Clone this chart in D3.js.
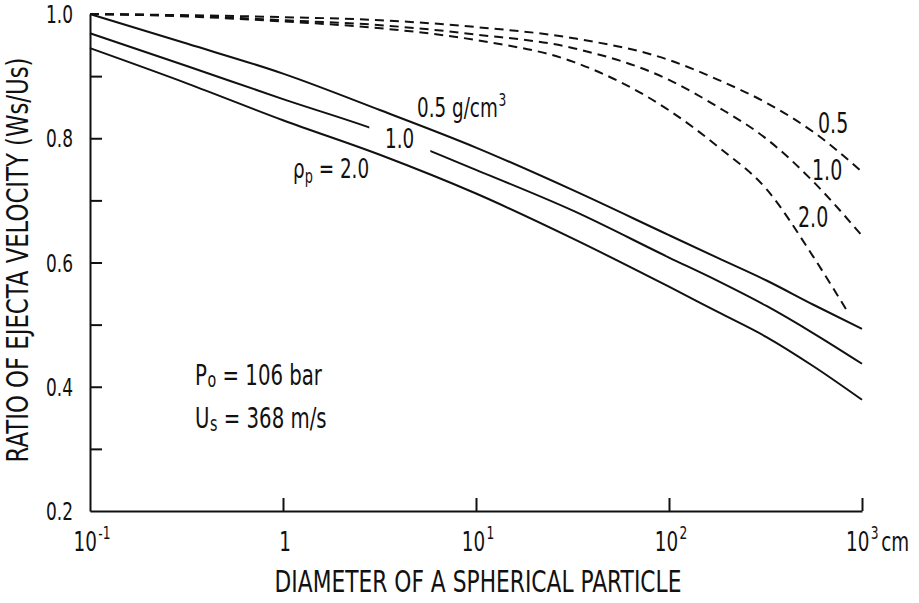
<!DOCTYPE html>
<html><head><meta charset="utf-8">
<script src="https://cdn.jsdelivr.net/npm/d3@7"></script>
<style>
body{margin:0;background:#fff;}
svg{display:block;}
text{font-family:"DejaVu Sans",sans-serif;fill:#111;}
</style></head><body>
<svg id="chart" width="919" height="603"></svg>
<script>
// ---- data ----
const diameters = [0.1, 0.32, 1, 3.2, 10, 32, 100, 180, 320, 560, 1000];
const solid05 = [1.0, 0.952, 0.904, 0.845, 0.785, 0.716, 0.644, 0.607, 0.571, 0.532, 0.493];
const solid10 = [0.969, 0.916, 0.863, 0.811, 0.749, 0.683, 0.608, 0.570, 0.530, 0.486, 0.437];
const solid20 = [0.945, 0.888, 0.829, 0.773, 0.711, 0.638, 0.561, 0.520, 0.480, 0.433, 0.379];
const dashDiam = [0.1, 0.32, 1, 3.2, 10, 32, 100, 180, 320, 560, 1000];
const dashDiam20 = [0.1, 0.32, 1, 3.2, 10, 32, 100, 180, 320, 560, 845];
const dashed05 = [1.0, 0.998, 0.995, 0.990, 0.979, 0.961, 0.926, 0.894, 0.857, 0.810, 0.746];
const dashed10 = [1.0, 0.997, 0.990, 0.982, 0.967, 0.945, 0.894, 0.850, 0.799, 0.730, 0.643];
const dashed20 = [1.0, 0.996, 0.988, 0.977, 0.958, 0.923, 0.845, 0.786, 0.718, 0.609, 0.520];
const yMinorTicks = [0.3, 0.4, 0.5, 0.6, 0.7, 0.8, 0.9];
const yTickLabels = [0.2, 0.4, 0.6, 0.8, 1.0];
const xTickValues = [0.1, 1, 10, 100, 1000];
const xTickBase = ["10", "1", "10", "10", "10"];
const xTickExp = ["-1", "", "1", "2", "3"];
const labelGap = [2.8, 5.8]; // diameters where the 1.0 curve is broken for its label

const SX = 0.68; // horizontal squeeze to mimic the narrow lettering
const svg = d3.select("#chart");
const x = d3.scaleLog().domain([0.1, 1000]).range([90, 862]);
const y = d3.scaleLinear().domain([0.2, 1.0]).range([511, 14]);

function txt(px, py, size, anchor, rot) {
  return svg.append("text")
    .attr("transform", `translate(${px},${py})` + (rot ? ` rotate(${rot})` : "") + ` scale(${SX},1)`)
    .attr("font-size", size).attr("text-anchor", anchor || "start");
}
// text squeezed to an exact length
function fitted(px, py, size, rot, len, str) {
  const t = svg.append("text").attr("font-size", size).attr("text-anchor", "middle").text(str);
  const natural = t.node().getComputedTextLength() || len;
  t.attr("transform", `translate(${px},${py})` + (rot ? ` rotate(${rot})` : "") + ` scale(${len / natural},1)`);
  return t;
}

// axes
svg.append("g").attr("transform", "translate(0,511)")
  .call(d3.axisBottom(x).tickValues(xTickValues.slice(1)).tickSize(-13).tickSizeOuter(0).tickFormat(""));
svg.append("g").attr("transform", "translate(90,0)")
  .call(d3.axisLeft(y).tickValues(yMinorTicks).tickSize(-12).tickSizeOuter(0).tickFormat(""));
svg.selectAll(".domain, .tick line").attr("stroke", "#111").attr("stroke-width", 2);

// y tick labels
yTickLabels.forEach(v => {
  txt(73, y(v) + 9, 25, "end").text(d3.format(".1f")(v));
});
// x tick labels
xTickValues.forEach((v, i) => {
  const last = i === xTickValues.length - 1;
  const t = txt(last ? x(v) - 16 : x(v) + 2, 551, 27, last ? "start" : "middle");
  t.append("tspan").text(xTickBase[i]);
  if (xTickExp[i]) t.append("tspan").attr("font-size", 18).attr("dy", -12).attr("dx", 2).text(xTickExp[i]);
  if (last) t.append("tspan").attr("dy", 12).attr("dx", 4).text("cm");
});

// axis titles
fitted(478, 592, 30, 0, 407, "DIAMETER OF A SPHERICAL PARTICLE");
fitted(28, 260, 30, -90, 405, "RATIO OF EJECTA VELOCITY (Ws/Us)");

// curves
const line = (xs) => d3.line().x((d, i) => x(xs[i])).y(d => y(d)).curve(d3.curveMonotoneX);
const clip = svg.append("defs").append("clipPath").attr("id", "gap");
clip.append("rect").attr("x", 0).attr("y", 0).attr("width", x(labelGap[0])).attr("height", 603);
clip.append("rect").attr("x", x(labelGap[1])).attr("y", 0).attr("width", 919 - x(labelGap[1])).attr("height", 603);

[solid05, solid10, solid20].forEach((s, k) => {
  svg.append("path").datum(s).attr("d", line(diameters))
    .attr("fill", "none").attr("stroke", "#111").attr("stroke-width", 2)
    .attr("clip-path", k === 1 ? "url(#gap)" : null);
});
[[dashed05, dashDiam], [dashed10, dashDiam], [dashed20, dashDiam20]].forEach(([s, xs]) => {
  svg.append("path").datum(s).attr("d", line(xs))
    .attr("fill", "none").attr("stroke", "#111").attr("stroke-width", 2)
    .attr("stroke-dasharray", "9,6");
});

// annotations
let t = txt(417, 117, 27);
t.append("tspan").text("0.5 g/cm");
t.append("tspan").attr("font-size", 18).attr("dy", -11).attr("dx", 1).text("3");
txt(385, 148, 27).text("1.0");
t = txt(293, 178, 27);
t.append("tspan").text("ρ");
t.append("tspan").attr("font-size", 19).attr("dy", 5).text("p");
t.append("tspan").attr("dy", -5).text(" = 2.0");

t = txt(195, 385, 29);
t.append("tspan").text("P");
t.append("tspan").attr("font-size", 21).attr("dy", 2).attr("dx", 1).text("o");
t.append("tspan").attr("dy", -2).text(" = 106 bar");
t = txt(195, 428, 29);
t.append("tspan").text("U");
t.append("tspan").attr("font-size", 21).attr("dy", 3).attr("dx", 1).text("s");
t.append("tspan").attr("dy", -3).text(" = 368 m/s");

txt(818, 133, 28).text("0.5");
txt(812, 180, 28).text("1.0");
txt(798, 227, 28).text("2.0");
</script>
</body></html>
